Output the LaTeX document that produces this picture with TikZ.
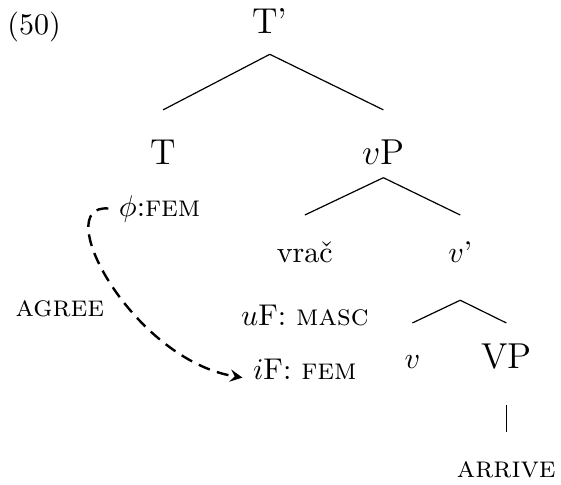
\documentclass[tikz,border=0pt]{standalone}
\usepackage{tikz}
\tikzset{
  cat/.style={font=\large,anchor=base},
  word/.style={anchor=base},
  branch/.style={black,line width=0.4pt},
  agree/.style={black,dash pattern=on 4pt off 2.5pt,line width=0.8pt,-stealth}
}

\begin{document}
\begin{tikzpicture}
    % canvas
    \useasboundingbox (0,0) rectangle (6.57,-5.67);

    % example number
    \node[word] (num) at (0.40,-0.40) {(50)};

    % tree nodes
    \node[cat] (Tbar) at (3.16,-0.39) {T'};
    \node[cat] (T) at (1.91,-1.93) {T};
    \node[cat] (vP) at (4.49,-1.93) {$v$P};
    \node[word] (vrac) at (3.57,-3.07) {vrač};
    \node[word] (vbar) at (5.39,-3.07) {$v$'};
    \node[word] (v) at (4.83,-4.32) {$v$};
    \node[cat] (VP) at (5.93,-4.32) {VP};
    \node[word] (arrive) at (5.93,-5.59) {\textsc{arrive}};

    % features
    \node[word] (phi) at (1.87,-2.53) {$\phi$:\textsc{fem}};
    \node[word] (uF) at (3.57,-3.81) {$u$F: \textsc{masc}};
    \node[word] (iF) at (3.57,-4.44) {$i$F: \textsc{fem}};

    % branches
    \draw[branch] ([yshift=-7pt]Tbar.base) -- ([yshift=18.3pt]T.base);
    \draw[branch] ([yshift=-7pt]Tbar.base) -- ([yshift=18.3pt]vP.base);
    \draw[branch] ([yshift=-4.3pt]vP.base) -- ([yshift=15.7pt]vrac.base);
    \draw[branch] ([yshift=-4.3pt]vP.base) -- ([yshift=15.7pt]vbar.base);
    \draw[branch] ([yshift=-12.7pt]vbar.base) -- ([yshift=15.3pt]v.base);
    \draw[branch] ([yshift=-12.7pt]vbar.base) -- ([yshift=15.3pt]VP.base);
    \draw[branch] ([yshift=-12pt]VP.base) -- ([yshift=15pt]arrive.base);

    % agree arrow
    \draw[agree] (phi.west) .. controls +(-0.70,0.06) and +(-1.29,0.21) .. ([yshift=0.5pt]iF.base west);
    \node[word] (agreelab) at (0.70,-3.71) {\textsc{agree}};
\end{tikzpicture}
\end{document}
